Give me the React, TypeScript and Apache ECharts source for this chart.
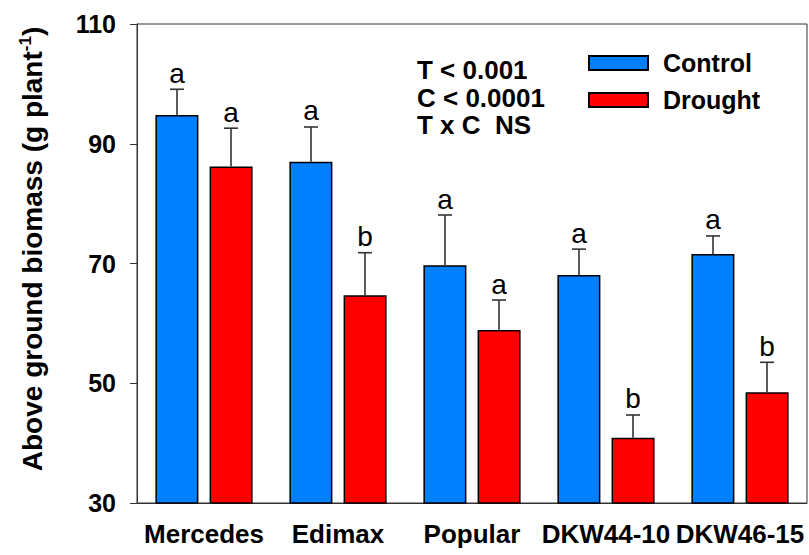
import React, { useEffect, useRef } from "react";
import * as echarts from "echarts";

const categories = ["Mercedes", "Edimax", "Popular", "DKW44-10", "DKW46-15"];
const controlValues = [94.8, 87.0, 69.7, 68.1, 71.6];
const controlErrors = [4.3, 5.8, 8.4, 4.3, 3.0];
const controlLetters = ["a", "a", "a", "a", "a"];
const droughtValues = [86.2, 64.7, 58.9, 40.9, 48.5];
const droughtErrors = [6.4, 7.1, 5.0, 3.8, 5.0];
const droughtLetters = ["a", "b", "a", "b", "b"];
const yTicks = { min: 30, max: 110, interval: 20 };
const statLines = ["T < 0.001", "C < 0.0001", "T x C  NS"];
const FONT = "Liberation Sans, Arial, Helvetica, sans-serif";

function errorSeries(name: string, values: number[], errors: number[], letters: string[], offset: number) {
  return {
    type: "custom",
    name: name + " error",
    z: 5,
    silent: true,
    data: values.map((v, i) => [i, v, errors[i]]),
    renderItem: (params: any, api: any) => {
      const base = api.coord([api.value(0), api.value(1)]);
      const top = api.coord([api.value(0), api.value(1) + api.value(2)]);
      const x = base[0] + offset;
      const stroke = { stroke: "#333", lineWidth: 1.6 };
      return {
        type: "group",
        children: [
          { type: "line", shape: { x1: x, y1: base[1], x2: x, y2: top[1] }, style: stroke },
          { type: "line", shape: { x1: x - 7, y1: top[1], x2: x + 7, y2: top[1] }, style: stroke },
          {
            type: "text",
            x: x,
            y: top[1] - 2,
            style: {
              text: letters[params.dataIndex],
              font: `normal 28px ${FONT}`,
              fill: "#000",
              align: "center",
              verticalAlign: "bottom",
            },
          },
        ],
      };
    },
  };
}

export default function App() {
  const ref = useRef<HTMLDivElement>(null);
  useEffect(() => {
    if (!ref.current) return;
    const chart = echarts.init(ref.current, undefined, { renderer: "svg" });
    chart.setOption({
      animation: false,
      backgroundColor: "#fff",
      grid: { left: 137, right: 2, top: 24, bottom: 52, show: true, borderColor: "#333", borderWidth: 1 },
      legend: {
        orient: "vertical",
        left: 588,
        top: 50.5,
        padding: 0,
        itemWidth: 59,
        itemHeight: 14,
        itemGap: 12,
        icon: "rect",
        data: ["Control", "Drought"],
        textStyle: { fontFamily: FONT, fontWeight: "bold", fontSize: 25, color: "#000", lineHeight: 23, padding: [0, 0, 0, 10] },
      },
      xAxis: {
        type: "category",
        data: categories,
        axisLine: { lineStyle: { color: "#333", width: 1 } },
        axisTick: { alignWithLabel: true, length: 7, lineStyle: { color: "#333" } },
        axisLabel: { interval: 0, margin: 18, fontFamily: FONT, fontWeight: "bold", fontSize: 26, color: "#000" },
      },
      yAxis: {
        type: "value",
        min: yTicks.min,
        max: yTicks.max,
        interval: yTicks.interval,
        splitLine: { show: false },
        axisLine: { show: true, lineStyle: { color: "#333", width: 1 } },
        axisTick: { show: true, length: 7, lineStyle: { color: "#333" } },
        axisLabel: { margin: 21, fontFamily: FONT, fontWeight: "bold", fontSize: 25, color: "#000" },
      },
      graphic: [
        {
          type: "text",
          x: 32,
          y: 249,
          rotation: Math.PI / 2,
          style: {
            text: "Above ground biomass (g plant{sup|-1})",
            font: `bold 28px ${FONT}`,
            fill: "#000",
            align: "center",
            verticalAlign: "middle",
            rich: {
              sup: { font: `bold 17px ${FONT}`, verticalAlign: "top", lineHeight: 30, fill: "#000" },
            },
          },
        },
        ...statLines.map((t, i) => ({
          type: "text",
          left: 417,
          top: 57 + i * 27.5,
          style: { text: t, font: `bold 26px ${FONT}`, fill: "#000" },
        })),
      ],
      series: [
        {
          type: "bar",
          name: "Control",
          data: controlValues,
          barWidth: 43,
          barGap: "26%",
          itemStyle: { color: "#0080FF", borderColor: "#000", borderWidth: 1.5 },
        },
        {
          type: "bar",
          name: "Drought",
          data: droughtValues,
          barWidth: 43,
          barGap: "26%",
          itemStyle: { color: "#FF0000", borderColor: "#000", borderWidth: 1.5 },
        },
        errorSeries("Control", controlValues, controlErrors, controlLetters, -27),
        errorSeries("Drought", droughtValues, droughtErrors, droughtLetters, 27),
      ],
    });
    return () => chart.dispose();
  }, []);
  return <div ref={ref} style={{ position: "fixed", left: 0, top: 0, width: 809, height: 555 }} />;
}
